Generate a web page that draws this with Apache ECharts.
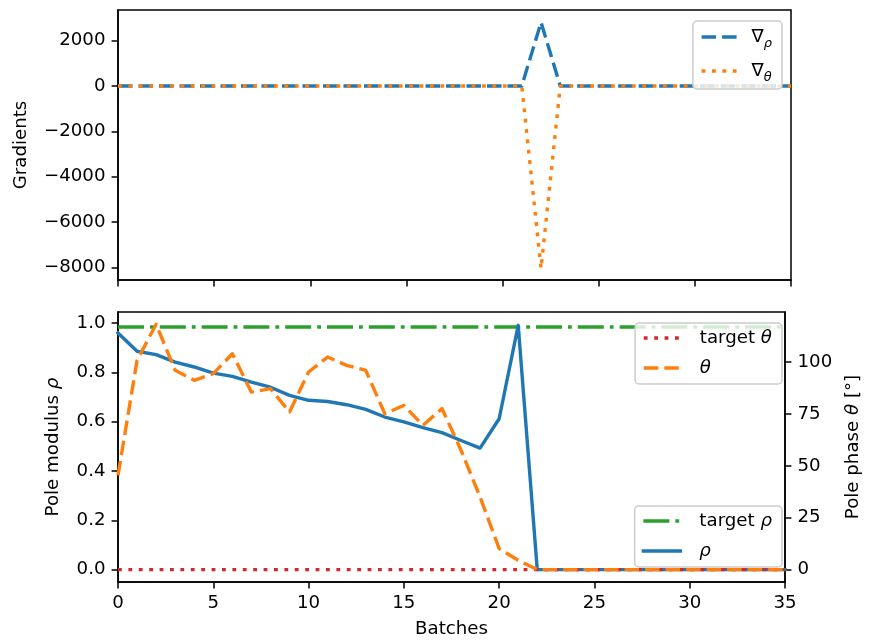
<!DOCTYPE html>
<html>
<head>
<meta charset="utf-8">
<script src="https://cdn.jsdelivr.net/npm/echarts@6/dist/echarts.min.js"></script>
<style>html,body{margin:0;padding:0;background:#fff}#c{width:870px;height:644px}</style>
</head>
<body>
<div id="c"></div>
<script>
// ---- data ----
const batches = [0,1,2,3,4,5,6,7,8,9,10,11,12,13,14,15,16,17,18,19,20,21,22,23,24,25,26,27,28,29,30,31,32,33,34,35];
const gradRho   = [0,0,0,0,0,0,0,0,0,0,0,0,0,0,0,0,0,0,0,0,0,0,2800,0,0,0,0,0,0,0,0,0,0,0,0,0];
const gradTheta = [0,0,0,0,0,0,0,0,0,0,0,0,0,0,0,0,0,0,0,0,0,0,-8040,0,0,0,0,0,0,0,0,0,0,0,0,0];
const rho = [0.960,0.886,0.872,0.842,0.822,0.797,0.784,0.761,0.740,0.707,0.687,0.682,0.669,0.650,0.619,0.599,0.576,0.556,0.524,0.493,0.612,0.991,0,0,0,0,0,0,0,0,0,0,0,0,0,0];
const theta = [45.4,100.8,118.2,96.0,91.2,94.4,104.0,85.5,87.2,75.9,95.2,102.4,98.4,96.0,75.1,79.1,69.5,77.6,57.5,35.0,10.1,4.5,0,0,0,0,0,0,0,0,0,0,0,0,0,0];
const targetX = [0, 35];
const targetRho = [0.984, 0.984];
const targetTheta = [0, 0];
const gradTicks = [-8000,-6000,-4000,-2000,0,2000];
const rhoTicks = [0,0.2,0.4,0.6,0.8,1.0];
const thetaTicks = [0,25,50,75,100];

const FONT = 'DejaVu Sans';
const FS = 18.2;
const LW = 3.4;
const C = {blue:'#1f77b4', orange:'#ff7f0e', green:'#2ca02c', red:'#d62728'};
const DASH = [14.5, 6];
const DOT = [3.8, 6.6];
const DASHDOT = [26, 6, 3.8, 6];

function pts(xs, ys){ return xs.map((x,i)=>[x, ys[i]]); }
const minus = v => String(v).replace('-', '\u2212');

const rich = {
  sub:{fontFamily:FONT, fontSize:13, fontStyle:'italic', padding:[13,0,0,0], color:'#000'},
  it:{fontFamily:FONT, fontSize:FS, fontStyle:'italic', color:'#000'}
};
const legendNames = {
  '∇ρ':'∇{sub|ρ}', '∇θ':'∇{sub|θ}',
  'target θ':'target {it|θ}', 'θ':'{it|θ}',
  'target ρ':'target {it|ρ}', 'ρ':'{it|ρ}'
};
function legendBase(extra, textPad){
  return Object.assign({
    orient:'vertical', selectedMode:false,
    itemWidth:37, itemHeight:20, itemGap:12,
    itemStyle:{opacity:0},
    lineStyle:{width:LW},
    backgroundColor:'rgba(255,255,255,0.8)', borderColor:'#cccccc', borderWidth:1.5, borderRadius:4,
    textStyle:{fontFamily:FONT, fontSize:FS, color:'#000', padding:[0,0,0,textPad], rich:rich},
    formatter: n => legendNames[n]
  }, extra);
}

const tickStyle = {show:true, inside:false, length:6.4, lineStyle:{color:'#000', width:1.5}};
const labelStyle = {fontFamily:FONT, fontSize:FS, color:'#000', margin:12.5};
const axLine = {show:true, onZero:false, lineStyle:{color:'#000', width:1.5}};

const option = {
  animation:false,
  backgroundColor:'#fff',
  grid:[
    {left:118, top:10, width:673, height:270, show:true, borderColor:'#000', borderWidth:1.5, containLabel:false},
    {left:118, top:312, width:673, height:270, show:true, borderColor:'#000', borderWidth:1.5, containLabel:false}
  ],
  xAxis:[
    {type:'value', gridIndex:0, min:0, max:35, interval:5, splitLine:{show:false},
     axisLine:axLine, axisTick:tickStyle, axisLabel:{show:false}},
    {type:'value', gridIndex:1, min:0, max:35, interval:5, splitLine:{show:false},
     axisLine:axLine, axisTick:tickStyle, axisLabel:labelStyle,
     name:'Batches', nameLocation:'middle', nameGap:38, nameTextStyle:{fontFamily:FONT, fontSize:FS, color:'#000'}}
  ],
  yAxis:[
    {type:'value', gridIndex:0, min:-8550, max:3345, splitLine:{show:false},
     axisLine:axLine,
     axisTick:Object.assign({customValues:gradTicks}, tickStyle),
     axisLabel:Object.assign({customValues:gradTicks, formatter:v=>minus(v)}, labelStyle),
     name:'Gradients', nameLocation:'middle', nameRotate:90, nameGap:88,
     nameTextStyle:{fontFamily:FONT, fontSize:FS, color:'#000'}},
    {type:'value', gridIndex:1, min:-0.05, max:1.045, splitLine:{show:false},
     axisLine:axLine,
     axisTick:Object.assign({customValues:rhoTicks}, tickStyle),
     axisLabel:Object.assign({customValues:rhoTicks, formatter:v=>v.toFixed(1)}, labelStyle),
     name:'Pole modulus {it|ρ}', nameLocation:'middle', nameRotate:90, nameGap:56,
     nameTextStyle:{fontFamily:FONT, fontSize:FS, color:'#000', rich:rich}},
    {type:'value', gridIndex:1, position:'right', min:-5.97, max:124.1, splitLine:{show:false},
     axisLine:axLine,
     axisTick:Object.assign({customValues:thetaTicks}, tickStyle),
     axisLabel:Object.assign({customValues:thetaTicks, formatter:v=>String(v)}, labelStyle),
     name:'Pole phase {it|θ} [°]', nameLocation:'middle', nameRotate:90, nameGap:59,
     nameTextStyle:{fontFamily:FONT, fontSize:FS, color:'#000', rich:rich}}
  ],
  legend:[
    legendBase({right:88, top:21, padding:[7,10,5,7], data:['∇ρ','∇θ'], z:10}, 8),
    legendBase({right:88, top:323, padding:[6,10,7,7], data:['target θ','θ'], z:10}, 14),
    legendBase({right:88, top:506, padding:[6,10,7,7], data:['target ρ','ρ'], z:1}, 14)
  ],
  series:[
    {name:'∇ρ', type:'line', xAxisIndex:0, yAxisIndex:0, data:pts(batches, gradRho), symbol:'none', z:2,
     lineStyle:{color:C.blue, width:LW, type:DASH, cap:'butt', join:'round'}, itemStyle:{color:C.blue}},
    {name:'∇θ', type:'line', xAxisIndex:0, yAxisIndex:0, data:pts(batches, gradTheta), symbol:'none', z:3,
     lineStyle:{color:C.orange, width:LW, type:DOT, cap:'butt', join:'round'}, itemStyle:{color:C.orange}},
    {name:'target ρ', type:'line', xAxisIndex:1, yAxisIndex:1, data:pts(targetX, targetRho), symbol:'none', z:2,
     lineStyle:{color:C.green, width:LW, type:DASHDOT, cap:'butt', join:'round'}, itemStyle:{color:C.green}},
    {name:'ρ', type:'line', xAxisIndex:1, yAxisIndex:1, data:pts(batches, rho), symbol:'none', z:2,
     lineStyle:{color:C.blue, width:LW, type:'solid', cap:'square', join:'round'}, itemStyle:{color:C.blue}},
    {name:'target θ', type:'line', xAxisIndex:1, yAxisIndex:2, data:pts(targetX, targetTheta), symbol:'none', z:3,
     lineStyle:{color:C.red, width:LW, type:DOT, cap:'butt', join:'round'}, itemStyle:{color:C.red}},
    {name:'θ', type:'line', xAxisIndex:1, yAxisIndex:2, data:pts(batches, theta), symbol:'none', z:3,
     lineStyle:{color:C.orange, width:LW, type:DASH, cap:'butt', join:'round'}, itemStyle:{color:C.orange}}
  ]
};
const chart = echarts.init(document.getElementById('c'), null, {renderer:'canvas'});
chart.setOption(option);
</script>
</body>
</html>
